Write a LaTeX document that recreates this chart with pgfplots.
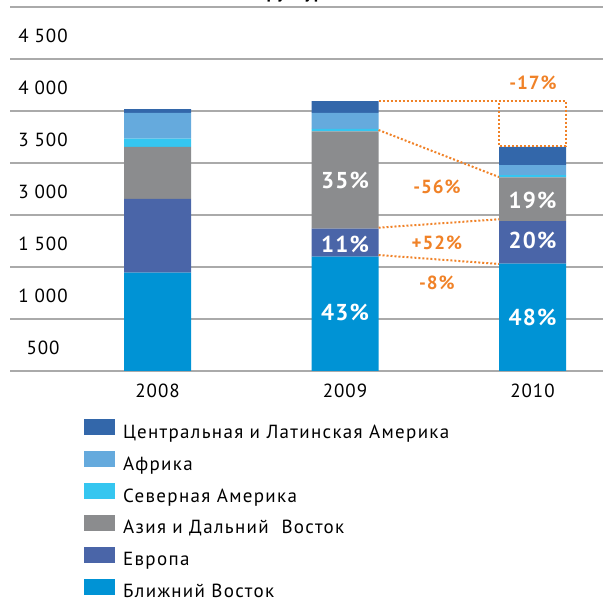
\documentclass[border=0pt]{standalone}
\usepackage{fontspec}
\setmainfont{PT Sans}[LetterSpace=5]
\newfontfamily\legfont{PT Sans}[LetterSpace=7]
\usepackage{pgfplots}
\pgfplotsset{compat=1.18}
\definecolor{cCent}{RGB}{51,103,170}
\definecolor{cAfr}{RGB}{101,170,221}
\definecolor{cNAm}{RGB}{53,198,240}
\definecolor{cAsia}{RGB}{139,140,142}
\definecolor{cEur}{RGB}{74,101,168}
\definecolor{cME}{RGB}{0,147,213}
\definecolor{cOr}{RGB}{240,130,40}
\definecolor{gridc}{RGB}{170,170,170}
\tikzset{wl/.style={white, font=\bfseries\fontsize{23}{27}\selectfont},
  ol/.style={cOr, font=\bfseries\fontsize{19}{22}\selectfont},
  dl/.style={cOr, line width=2pt, dash pattern=on 2pt off 2pt},
  sep/.style={gridc, line width=1.2pt}}
\begin{document}
\begin{tikzpicture}
\useasboundingbox (0,0) rectangle (603pt,599pt);
\node[anchor=base west, font=\bfseries\fontsize{18}{21}\selectfont] at (245pt,600pt) {Структура};
\begin{axis}[
  at={(10pt,228pt)}, anchor=south west,
  scale only axis, width=593pt, height=364pt,
  xmin=-0.787, xmax=2.376, ymin=0, ymax=3500,
  ybar stacked, bar width=67pt,
  axis line style={draw=none},
  major tick length=0pt,
  ymajorgrids, grid style={line width=1.2pt, draw=gridc},
  ytick={0,500,1000,1500,2000,2500,3000,3500},
  yticklabels={,500,1 000,1 500,3 000,3 500,4 000,4 500},
  yticklabel style={anchor=center, xshift=33pt, yshift=-29pt, font=\fontsize{19}{22}\selectfont},
  xtick={0,1,2}, xticklabels={2008,2009,2010},
  xticklabel style={anchor=center, yshift=-20pt, font=\fontsize{19}{22}\selectfont},
  reverse legend,
  legend cell align=left,
  legend image code/.code={\fill[#1] (0pt,-3pt) rectangle (31pt,13pt);},
  legend style={at={(0.1197,-0.1264)}, anchor=north west, draw=none, fill=none,
    font=\legfont\fontsize{19}{22}\selectfont, row sep=11.4pt, column sep=8pt,
    nodes={inner sep=0pt}},
]
\addplot[fill=cME, draw=none] coordinates {(0,945) (1,1099) (2,1032)};
\addlegendentry{Ближний Восток}
\addplot[fill=cEur, draw=none] coordinates {(0,709) (1,269) (2,410)};
\addlegendentry{Европа}
\addplot[fill=cAsia, draw=none] coordinates {(0,500) (1,937) (2,420)};
\addlegendentry{Азия и Дальний~~Восток}
\addplot[fill=cNAm, draw=none] coordinates {(0,80) (1,22) (2,22)};
\addlegendentry{Северная Америка}
\addplot[fill=cAfr, draw=none] coordinates {(0,247) (1,154) (2,96)};
\addlegendentry{Африка}
\addplot[fill=cCent, draw=none] coordinates {(0,38) (1,115) (2,176)};
\addlegendentry{Центральная и Латинская Америка}
\draw[sep] (axis cs:-0.45,0) -- ++(0pt,-31pt);
\draw[sep] (axis cs:0.52,0) -- ++(0pt,-31pt);
\draw[sep] (axis cs:1.49,0) -- ++(0pt,-31pt);
\coordinate (a1) at (axis cs:1.1787,2596);
\coordinate (a2) at (axis cs:2.1787,2596);
\coordinate (a3) at (axis cs:2.1787,2166);
\coordinate (a4) at (axis cs:1.8213,2166);
\coordinate (a5) at (axis cs:1.8213,2596);
\coordinate (b1) at (axis cs:1.1787,2317);
\coordinate (b2) at (axis cs:1.8213,1865);
\coordinate (c1) at (axis cs:1.1787,1378);
\coordinate (c2) at (axis cs:1.8213,1459);
\coordinate (d1) at (axis cs:1.1787,1115);
\coordinate (d2) at (axis cs:1.8213,1029);
\coordinate (w1) at (axis cs:1,1830);
\coordinate (w2) at (axis cs:1,1221);
\coordinate (w3) at (axis cs:1,567);
\coordinate (w4) at (axis cs:2,1644);
\coordinate (w5) at (axis cs:2,1260);
\coordinate (w6) at (axis cs:2,512);
\coordinate (o1) at (axis cs:2.003,2769);
\coordinate (o2) at (axis cs:1.49,1772);
\coordinate (o3) at (axis cs:1.49,1228);
\coordinate (o4) at (axis cs:1.49,846);
\end{axis}
\draw[dl] (a1) -- (a2) -- (a3) -- (a4) -- (a5);
\draw[dl] (b1) -- (b2);
\draw[dl] (c1) -- (c2);
\draw[dl] (d1) -- (d2);
\node[wl] at (w1) {35\%};
\node[wl] at (w2) {11\%};
\node[wl] at (w3) {43\%};
\node[wl] at (w4) {19\%};
\node[wl] at (w5) {20\%};
\node[wl] at (w6) {48\%};
\node[ol] at (o1) {-17\%};
\node[ol] at (o2) {-56\%};
\node[ol] at (o3) {+52\%};
\node[ol] at (o4) {-8\%};
\end{tikzpicture}
\end{document}
